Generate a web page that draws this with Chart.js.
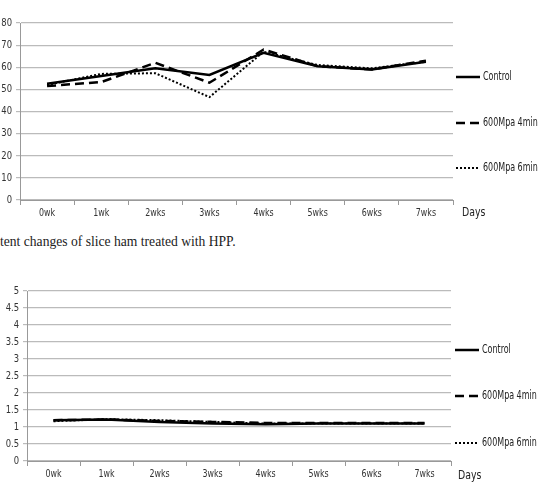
<!DOCTYPE html>
<html>
<head>
<meta charset="utf-8">
<script src="https://cdn.jsdelivr.net/npm/chart.js@4/dist/chart.umd.min.js"></script>
<style>
  body { margin: 0; background: #fff; width: 543px; height: 496px; position: relative; overflow: hidden; }
  .box { position: absolute; left: 0; width: 543px; }
  #caption { position: absolute; left: 0; top: 234px; font-family: "Liberation Serif", "Times New Roman", serif; font-size: 13.6px; color: #222; white-space: nowrap; }
</style>
</head>
<body>
<div class="box" style="top:0;height:225px"><canvas id="chartTop" width="543" height="225"></canvas></div>
<div id="caption">tent changes of slice ham treated with HPP.</div>
<div class="box" style="top:270px;height:226px"><canvas id="chartBottom" width="543" height="226"></canvas></div>
<script>
// Données
const weeks = ["0wk", "1wk", "2wks", "3wks", "4wks", "5wks", "6wks", "7wks"];
const seriesNames = ["Control", "600Mpa 4min", "600Mpa 6min"];
const xTitle = "Days";

// graphique du haut
const topControl = [52.5, 56, 59.5, 56.5, 66.5, 60.5, 59, 62.5];
const top4min    = [51.5, 53.3, 62, 53, 68, 60.5, 59, 63];
const top6min    = [52, 57, 57.3, 46.5, 67, 61, 59.5, 62.5];
const topTicks   = [0, 10, 20, 30, 40, 50, 60, 70, 80];

// graphique du bas
const botControl = [1.2, 1.22, 1.15, 1.1, 1.08, 1.1, 1.1, 1.1];
const bot4min    = [1.2, 1.22, 1.18, 1.15, 1.12, 1.12, 1.12, 1.12];
const bot6min    = [1.17, 1.23, 1.2, 1.15, 1.1, 1.1, 1.1, 1.1];
const botTicks   = [0, 0.5, 1, 1.5, 2, 2.5, 3, 3.5, 4, 4.5, 5];

const FONT = "'DejaVu Sans Condensed', 'DejaVu Sans', sans-serif";
const styles = [
    { borderDash: [], borderWidth: 2.5 },
    { borderDash: [9, 5], borderWidth: 2.5 },
    { borderDash: [2, 2], borderWidth: 2 }
];

// texte étroit (police condensée comme l'original)
function narrowText(ctx, txt, x, y, sx, align) {
    ctx.save();
    ctx.translate(x, y);
    ctx.scale(sx, 1);
    ctx.textAlign = align || "left";
    ctx.fillText(txt, 0, 0);
    ctx.restore();
}

// étiquettes d'axes, légende + "Days" dessinés à la main
function sideLegend(legendYs, lineX, daysPos) {
    return {
        id: "sideLegend",
        afterDraw(chart) {
            const ctx = chart.ctx;
            const xs = chart.scales.x, ys = chart.scales.y;
            ctx.save();
            ctx.fillStyle = "#333";
            ctx.textBaseline = "middle";
            ctx.font = "11px " + FONT;
            xs.ticks.forEach((t, i) => {
                narrowText(ctx, chart.data.labels[i], xs.getPixelForTick(i), xs.top + 13, 0.8, "center");
            });
            ys.ticks.forEach(t => {
                narrowText(ctx, String(t.value), ys.right - 8, ys.getPixelForValue(t.value), 0.85, "right");
            });
            ctx.fillStyle = "#222";
            ctx.font = "12.5px " + FONT;
            chart.data.datasets.forEach((ds, i) => {
                const y = legendYs[i];
                ctx.beginPath();
                ctx.strokeStyle = "#000";
                ctx.lineWidth = ds.borderWidth;
                ctx.setLineDash(ds.borderDash);
                ctx.moveTo(lineX, y);
                ctx.lineTo(lineX + 24, y);
                ctx.stroke();
                ctx.setLineDash([]);
                narrowText(ctx, ds.label, lineX + 27, y, 0.71);
            });
            ctx.font = "13px " + FONT;
            narrowText(ctx, xTitle, daysPos[0], daysPos[1], 0.8);
            ctx.restore();
        }
    };
}

function makeChart(id, values, ticks, opts) {
    const datasets = values.map((v, i) => ({
        label: seriesNames[i],
        data: v,
        borderColor: "#000",
        backgroundColor: "#000",
        borderWidth: styles[i].borderWidth,
        borderDash: styles[i].borderDash,
        pointRadius: 0,
        tension: 0,
        fill: false
    }));
    return new Chart(document.getElementById(id), {
        type: "line",
        data: { labels: weeks, datasets: datasets },
        options: {
            responsive: false,
            animation: false,
            layout: { padding: { top: opts.top, right: opts.right, left: 0, bottom: 0 } },
            plugins: { legend: { display: false }, tooltip: { enabled: false } },
            scales: {
                x: {
                    offset: true,
                    grid: { offset: true, drawOnChartArea: false, color: "#999", tickLength: 5 },
                    border: { color: "#999" },
                    ticks: { display: false },
                    afterFit: s => { s.height = opts.xHeight; }
                },
                y: {
                    min: ticks[0],
                    max: ticks[ticks.length - 1],
                    afterBuildTicks: s => { s.ticks = ticks.map(v => ({ value: v })); },
                    grid: { color: "#bbb", tickLength: 4, lineWidth: 1.2 },
                    border: { color: "#999" },
                    ticks: { display: false },
                    afterFit: s => { s.width = opts.yWidth; }
                }
            }
        },
        plugins: [sideLegend(opts.legendYs, opts.lineX, opts.days)]
    });
}

makeChart("chartTop", [topControl, top4min, top6min], topTicks, {
    top: 23, right: 90, xHeight: 25, yWidth: 20,
    legendYs: [77, 123, 168], lineX: 456, days: [462, 213]
});

makeChart("chartBottom", [botControl, bot4min, bot6min], botTicks, {
    top: 21, right: 92, xHeight: 35, yWidth: 27,
    legendYs: [80, 126, 173], lineX: 455, days: [458, 206]
});
</script>
</body>
</html>
